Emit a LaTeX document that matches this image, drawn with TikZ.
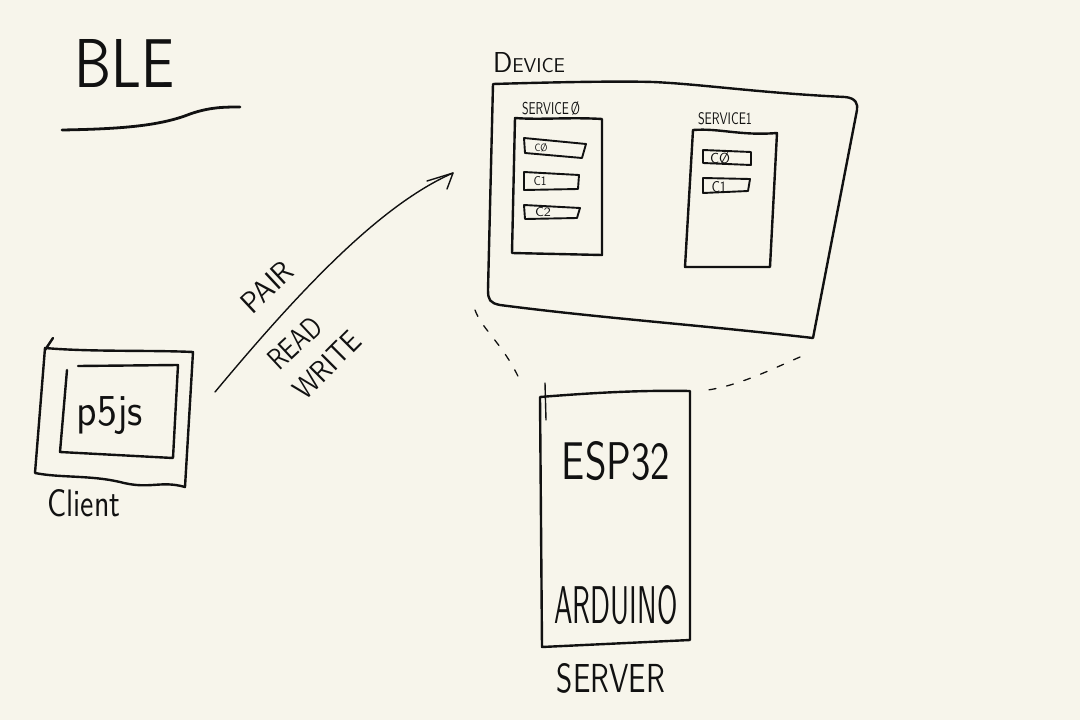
\documentclass[tikz,border=0pt]{standalone}
\usepackage{graphicx}
\definecolor{paper}{HTML}{F7F5EB}
\definecolor{ink}{HTML}{111111}
\tikzset{
  pen/.style={draw=ink, line width=2.4pt, line join=round, line cap=round},
  thinpen/.style={draw=ink, line width=1.9pt, line join=round, line cap=round},
  finepen/.style={draw=ink, line width=1.4pt, line join=round, line cap=round},
  dashpen/.style={draw=ink, line width=1.3pt, line cap=round, dash pattern=on 7pt off 11pt},
  lbl/.style={inner sep=0pt, text=ink, font=\sffamily},
}
\newcommand{\fitbox}[3]{\resizebox{#1pt}{#2pt}{#3}}
\newcommand{\fitboxT}[3]{\resizebox*{#1pt}{#2pt}{#3}}
\begin{document}
\begin{tikzpicture}[x=1pt,y=-1pt]
\fill[paper] (0,0) rectangle (1080,720);
\useasboundingbox (0,0) rectangle (1080,720);

% title
\node[lbl] (ble) at (125,63) {\fitbox{100}{48}{BLE}};
\coordinate (ulA) at (62,130);
\coordinate (ulB) at (240,107);
\draw[pen, line width=2.8pt] (ulA) .. controls (120,129) and (160,126) .. (190,114) .. controls (210,107) and (225,107) .. (ulB);

% Device
\node[lbl] (devlbl) at (529,63) {\fitbox{72}{20}{{\Large D}EVICE}};
\coordinate (dTL) at (493,84);
\coordinate (dTR) at (855,101);
\coordinate (dBR) at (813,338);
\coordinate (dBL) at (488,302);
\draw[pen] (dTL) .. controls (560,82) and (620,81) .. (653,82)
  .. controls (700,84) and (760,93) .. (845,97)
  .. controls (856,98) and (858,104) .. (857,110)
  -- (dBR)
  .. controls (700,325) and (600,318) .. (500,305)
  .. controls (490,303) and (488,300) .. (488,290)
  -- (dTL);

% Service 0
\node[lbl] (s0lbl) at (551,109) {\fitbox{58}{13}{SERVICE\,Ø}};
\draw[pen] (515,118) .. controls (540,120) and (570,117) .. (602,119)
  -- (602,255) -- (512,253) -- cycle;
\draw[thinpen] (524,138) -- (586,144) -- (582,158) -- (525,153) -- cycle;
\draw[thinpen] (524,172) -- (579,175) -- (578,189) -- (524,190) -- cycle;
\draw[thinpen] (524,205) -- (580,208) -- (577,218) -- (525,219) -- cycle;
\node[lbl] (s0c0) at (541,148) {\fitbox{13}{8}{CØ}};
\node[lbl] (s0c1) at (540,181) {\fitbox{13}{9}{C1}};
\node[lbl] (s0c2) at (543,212) {\fitbox{16}{9}{C2}};

% Service 1
\node[lbl] (s1lbl) at (725,119) {\fitbox{54}{12}{SERVICE1}};
\draw[pen] (693,130) .. controls (720,128) and (740,136) .. (777,133)
  -- (770,267) -- (685,267) -- cycle;
\draw[thinpen] (703,150) -- (751,152) -- (751,165) -- (703,163) -- cycle;
\draw[thinpen] (703,178) -- (750,179) -- (748,191) -- (703,193) -- cycle;
\node[lbl] (s1c0) at (720,158) {\fitbox{20}{11}{CØ}};
\node[lbl] (s1c1) at (719,187) {\fitbox{15}{11}{C1}};

% Client
\draw[pen] (45,348) .. controls (90,352) and (150,350) .. (193,352)
  -- (185,487)
  .. controls (160,480) and (150,490) .. (120,482)
  .. controls (90,475) and (60,478) .. (35,473)
  -- cycle;
\draw[pen] (45,350) -- (53,338);
\draw[pen] (78,366) -- (178,365) -- (173,458) -- (60,452) -- (67,370);
\node[lbl] (p5js) at (110,416) {\fitboxT{66}{38}{p5js}};
\node[lbl] (client) at (84,503) {\fitbox{73}{27}{Client}};

% Arrow
\coordinate (arrS) at (215,392);
\coordinate (arrT) at (453,173);
\draw[finepen] (arrS) .. controls (300,290) and (380,205) .. (arrT);
\draw[finepen] (427,181) -- (arrT) -- (447,189);
\node[lbl, rotate=43] (pair) at (267,287) {\fitbox{60}{21}{PAIR}};
\node[lbl, rotate=43] (read) at (295,343) {\fitbox{62}{21}{READ}};
\node[lbl, rotate=45] (write) at (327,365) {\fitbox{82}{21}{WRITE}};

% ESP32 / Server
\draw[pen] (540,397) .. controls (590,393) and (640,390) .. (690,391)
  -- (690,640) -- (542,647) -- cycle;
\draw[finepen] (546,420) -- (545,383) ;
\node[lbl] (esp) at (616,461) {\fitbox{108}{38}{ESP32}};
\node[lbl] (ard) at (616,605) {\fitbox{123}{38}{ARDUINO}};
\node[lbl] (server) at (611,678) {\fitbox{108}{29}{SERVER}};

% dashed projection lines
\coordinate (dlA) at (475,310);
\coordinate (dlB) at (522,385);
\coordinate (drA) at (800,357);
\coordinate (drB) at (708,390);
\draw[dashpen] (dlA) .. controls (482,330) and (505,345) .. (dlB);
\draw[dashpen] (drA) .. controls (770,370) and (740,385) .. (drB);
\end{tikzpicture}
\end{document}
